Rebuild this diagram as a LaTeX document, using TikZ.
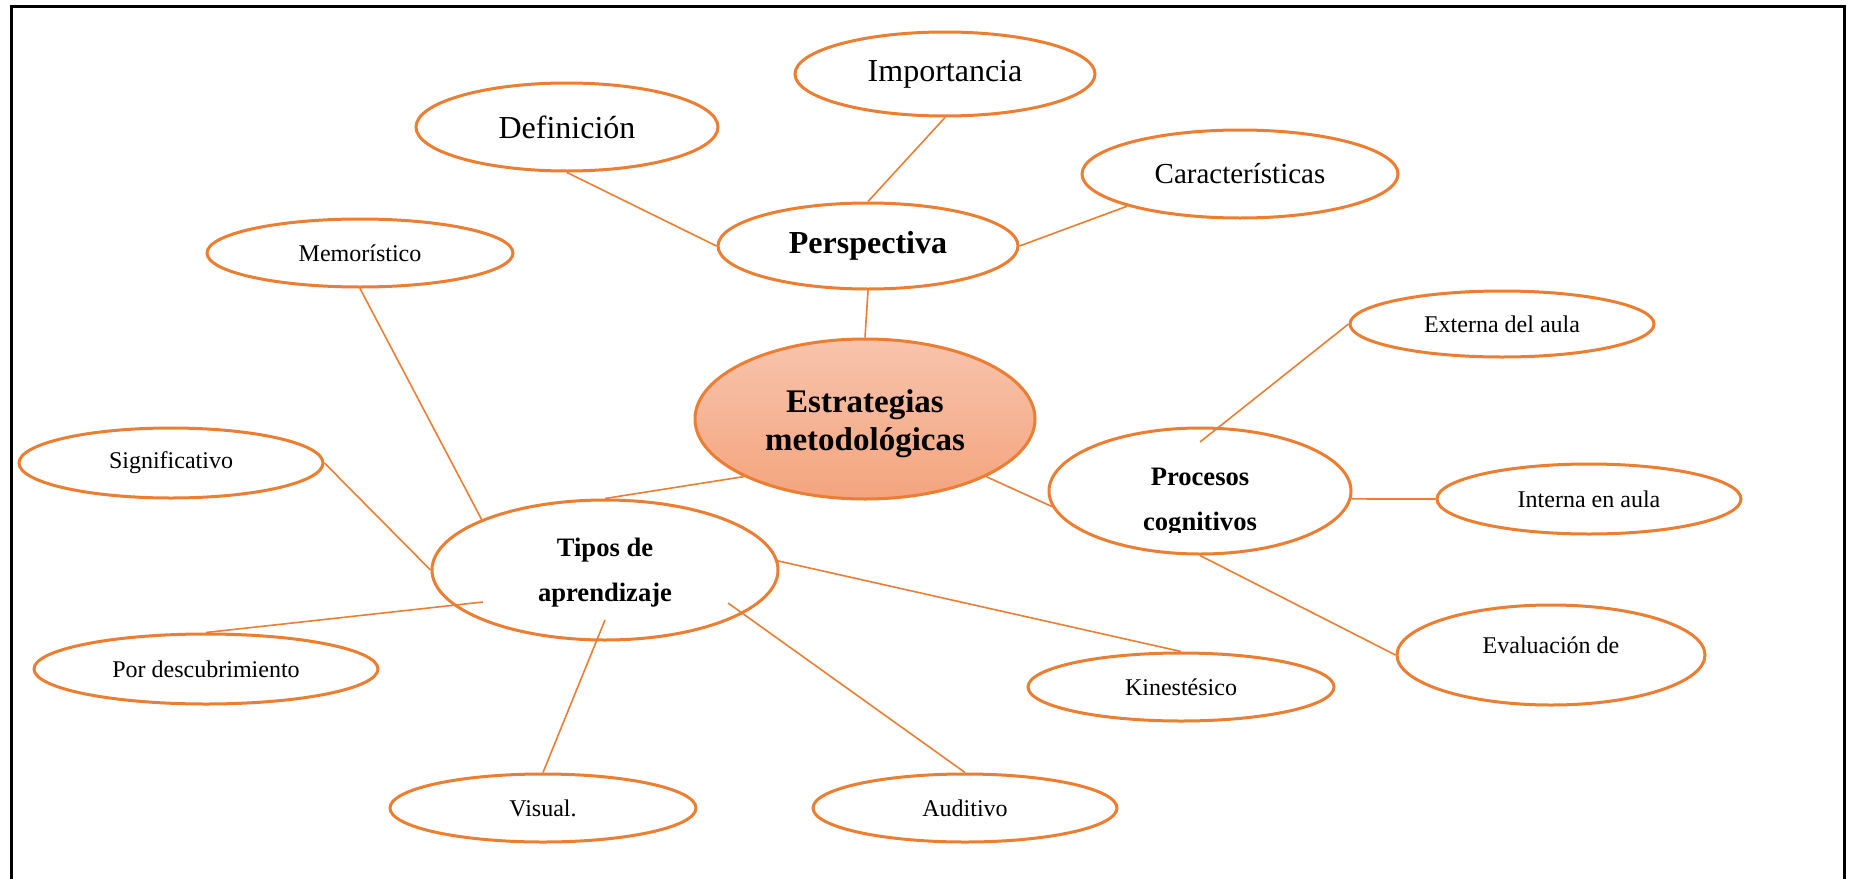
\documentclass[tikz,border=0pt]{standalone}
\usepackage{fontspec}
\setmainfont{Liberation Serif}
\usetikzlibrary{shapes.geometric}
\definecolor{acc}{RGB}{237,125,49}
\definecolor{gtop}{RGB}{247,196,172}
\definecolor{gbot}{RGB}{244,164,126}
\tikzset{
  bub/.style={ellipse, draw=acc, line width=1.5pt, fill=white, inner sep=0pt, align=center},
  big/.style={font=\fontsize{16}{19}\selectfont},
  small/.style={font=\fontsize{12}{14}\selectfont},
  boldtxt/.style={anchor=base, font=\fontsize{13.3}{16}\selectfont\bfseries, inner sep=0pt},
  conn/.style={draw=acc, line width=0.8pt},
}
\begin{document}
\begin{tikzpicture}[x=0.5pt,y=-0.5pt]
\useasboundingbox (0,0) rectangle (1852,878);
% frame
\draw[line width=1.5pt, black] (11,890) -- (11,6) -- (1844,6) -- (1844,890);
% nodes
\node[bub, big, minimum width=150pt, minimum height=42pt] (imp) at (945,74) {Importancia};
\node[bub, big, minimum width=151pt, minimum height=44pt] (def) at (567,127) {Definición};
\node[bub, font=\fontsize{14.5}{17}\selectfont, minimum width=158pt, minimum height=44pt] (car) at (1240,174) {Características};
\node[bub, font=\fontsize{16}{19}\selectfont\bfseries, minimum width=150pt, minimum height=43pt] (per) at (868,246) {Perspectiva};
\node[bub, small, minimum width=153pt, minimum height=34pt] (mem) at (360,253) {Memorístico};
\node[bub, small, minimum width=152pt, minimum height=33pt] (ext) at (1502,324) {Externa del aula};
\node[ellipse, draw=acc, line width=1.5pt, top color=gtop, bottom color=gbot, inner sep=0pt,
      minimum width=170pt, minimum height=80pt] (est) at (865,419) {};
\node[bub, small, minimum width=152pt, minimum height=35pt] (sig) at (171,463) {Significativo};
\node[bub, minimum width=151pt, minimum height=63pt] (proc) at (1200,491) {};
\node[bub, small, minimum width=152pt, minimum height=35pt] (int) at (1589,499) {Interna en aula};
\node[bub, minimum width=173pt, minimum height=70pt] (tip) at (605,570) {};
\node[bub, small, minimum width=172pt, minimum height=35pt] (por) at (206,669) {Por descubrimiento};
\node[bub, minimum width=154pt, minimum height=50pt] (eva) at (1551,655) {};
\node[bub, small, minimum width=153pt, minimum height=34pt] (kin) at (1181,687) {Kinestésico};
\node[bub, small, minimum width=153pt, minimum height=34pt] (vis) at (543,808) {Visual.};
\node[bub, small, minimum width=152pt, minimum height=34pt] (aud) at (965,808) {Auditivo};
% texts of the multi-line bubbles
\node[anchor=base, font=\fontsize{16.5}{18}\selectfont\bfseries, inner sep=0pt] (estt1) at (865,412) {Estrategias};
\node[anchor=base, font=\fontsize{16.5}{18}\selectfont\bfseries, inner sep=0pt] (estt2) at (865,450) {metodológicas};
\node[boldtxt] (tipt1) at (605,556) {Tipos de};
\node[boldtxt] (tipt2) at (605,601) {aprendizaje};
\begin{scope}
  \clip (1050,430) rectangle (1350,532);
  \node[boldtxt] (proct1) at (1200,485) {Procesos};
  \node[boldtxt] (proct2) at (1200,530) {cognitivos};
\end{scope}
\node[anchor=base, small, inner sep=0pt] (evat) at (1551,653) {Evaluación de};
% free ends
\coordinate (cpor) at (483,602);
\coordinate (cvis) at (605,620);
\coordinate (caud) at (728,603);
\coordinate (cext) at (1200,442);
% connectors
\draw[conn] (def.south) -- (per.west);
\draw[conn] (imp.south) -- (per.north);
\draw[conn] (car.south west) -- (per.east);
\draw[conn] (per.south) -- (est.north);
\draw[conn] (mem.south) -- (tip.north west);
\draw[conn] (sig.east) -- (tip.west);
\draw[conn] (por.north) -- (cpor);
\draw[conn] (vis.north) -- (cvis);
\draw[conn] (aud.north) -- (caud);
\draw[conn] (kin.north) -- (tip.3);
\draw[conn] (tip.north) -- (est.south west);
\draw[conn] (est.south east) -- (proc.186);
\draw[conn] (ext.west) -- (cext);
\draw[conn] (proc.-3) -- (int.west);
\draw[conn] (eva.west) -- (proc.south);
\end{tikzpicture}
\end{document}
